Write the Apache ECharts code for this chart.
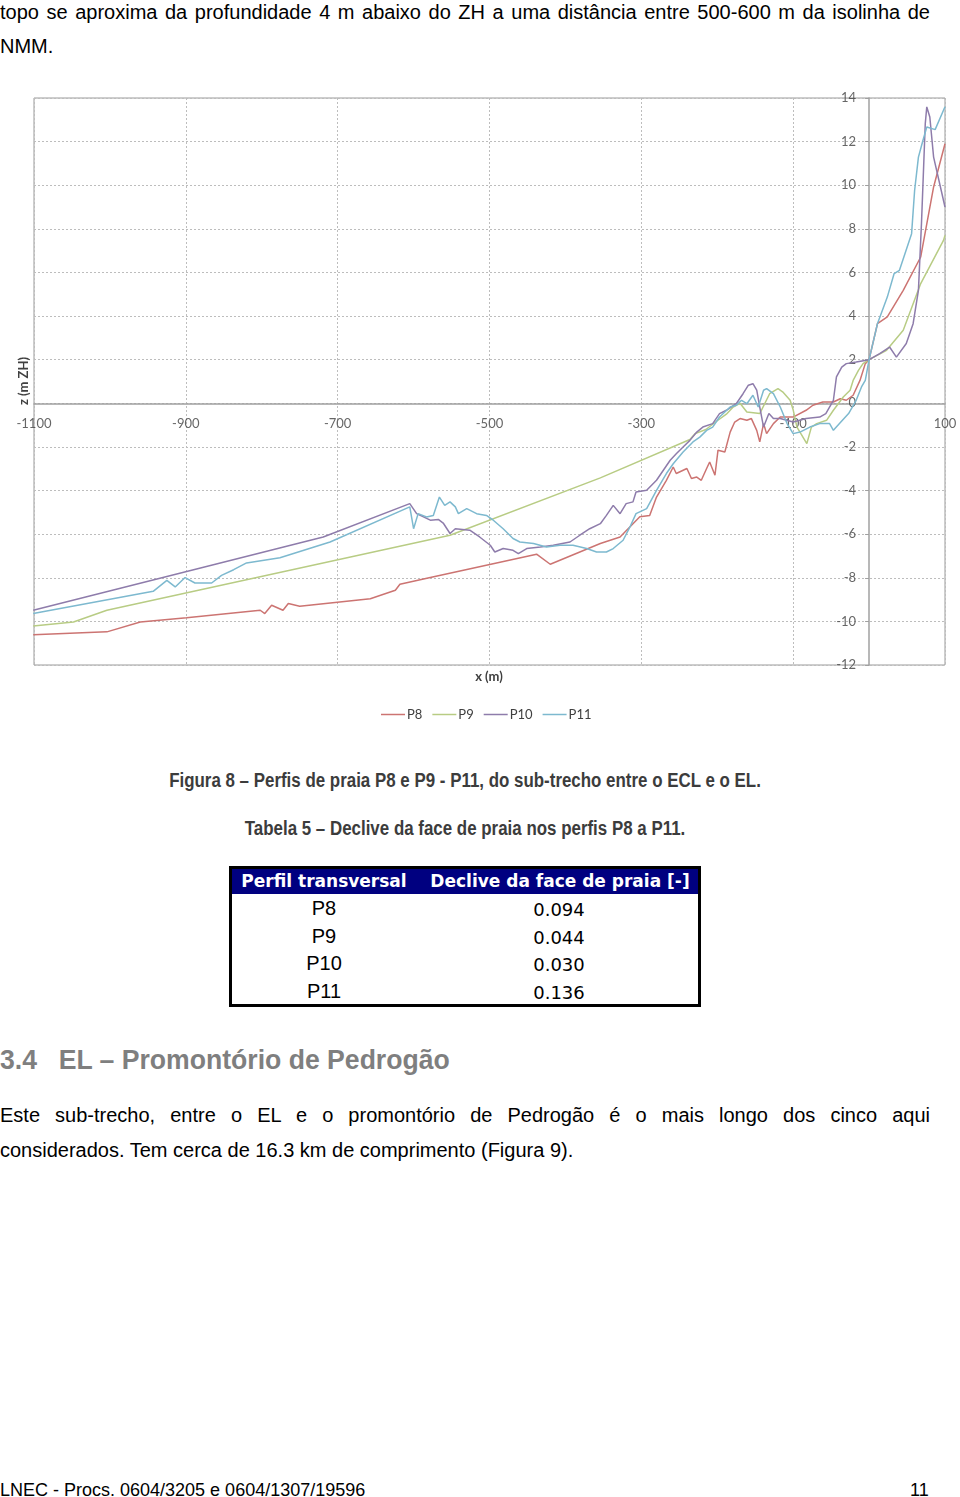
<!DOCTYPE html>
<html><head><meta charset="utf-8">
<script src="https://cdn.jsdelivr.net/npm/echarts@6/dist/echarts.min.js"></script>
<style>
html,body{margin:0;padding:0;background:#fff;}
body{width:960px;height:1497px;position:relative;overflow:hidden;font-family:'Liberation Sans',Arial,sans-serif;color:#000;}
.ln{position:absolute;left:0;font-size:20px;line-height:24px;}
.just{width:930px;text-align:justify;text-align-last:justify;}
.cap{position:absolute;left:0;width:930px;text-align:center;font-family:'Liberation Sans',Arial;font-weight:bold;font-size:19px;line-height:24px;color:#3c3c3c;transform:scaleX(0.89) scaleY(1.05);transform-origin:465px 50%;}
#chart{position:absolute;left:0;top:60px;width:960px;height:680px;}
.tbl{position:absolute;left:229px;top:866px;width:466px;height:135px;border:3px solid #000;}
.hd{position:absolute;left:0;top:0;width:466px;height:25px;background:#000080;}
.cell{position:absolute;text-align:center;white-space:nowrap;}
.h{color:#fff;font-family:'DejaVu Sans',Verdana,sans-serif;font-weight:bold;font-size:17px;line-height:25px;top:0;}
.c1{left:0;width:184px;}
.c2{left:186px;width:282px;}
.h.c2{left:187px;}
.p{font-family:'Liberation Sans',Arial;font-size:20px;line-height:24px;}
.n{font-family:'DejaVu Sans',Verdana,sans-serif;font-size:18px;line-height:24px;}
.sec{position:absolute;left:0;top:1044px;font-family:'Liberation Sans',Arial;font-weight:bold;font-size:27px;line-height:32px;color:#7f7f7f;white-space:nowrap;transform:scaleX(0.985);transform-origin:0 50%;}
</style></head>
<body>
<div class="ln just" style="top:0px;">topo se aproxima da profundidade 4 m abaixo do ZH a uma distância entre 500-600 m da isolinha de</div>
<div class="ln" style="top:34px;">NMM.</div>
<div id="chart"></div>
<div class="cap" style="top:769px;">Figura 8 – Perfis de praia P8 e P9 - P11, do sub-trecho entre o ECL e o EL.</div>
<div class="cap" style="top:817px;">Tabela 5 – Declive da face de praia nos perfis P8 a P11.</div>
<div class="tbl">
  <div class="hd"></div>
  <div class="cell h c1">Perfil transversal</div>
  <div class="cell h c2">Declive da face de praia [-]</div>
  <div id="rows"></div>
</div>
<div class="sec">3.4<span style="display:inline-block;width:22px;"></span>EL – Promontório de Pedrogão</div>
<div class="ln just" style="top:1103px;">Este sub-trecho, entre o EL e o promontório de Pedrogão é o mais longo dos cinco aqui</div>
<div class="ln" style="top:1138px;">considerados. Tem cerca de 16.3 km de comprimento (Figura 9).</div>
<div class="ln" style="top:1478px;font-size:18px;">LNEC - Procs. 0604/3205 e 0604/1307/19596</div>
<div class="ln" style="top:1478px;font-size:18px;left:910px;">11</div>
<script>
// ---- data (x in m, z in m ZH) ----
var profiles = ['P8','P9','P10','P11'];
var slopes = ['0.094','0.044','0.030','0.136'];
var xTicks = [-1100,-900,-700,-500,-300,-100,100];
var yTicks = [-12,-10,-8,-6,-4,-2,0,2,4,6,8,10,12,14];

var P8 = [[-1101,-10.61],[-1004,-10.48],[-960,-10.03],[-899,-9.83],[-802,-9.49],[-796,-9.64],[-787,-9.26],[-772,-9.49],[-765,-9.18],[-750,-9.31],[-657,-8.96],[-624,-8.57],[-618,-8.30],[-578,-7.99],[-438,-6.92],[-420,-7.38],[-354,-6.43],[-328,-6.13],[-302,-5.2],[-289,-5.14],[-280,-4.3],[-267,-3.53],[-258,-2.92],[-254,-3.22],[-240,-2.99],[-234,-3.45],[-227,-3.38],[-221,-3.53],[-214,-2.99],[-210,-2.69],[-203,-3.30],[-199,-2.15],[-190,-2.23],[-183,-1.32],[-177,-0.86],[-170,-0.70],[-161,-0.78],[-155,-0.70],[-148,-1.24],[-144,-1.77],[-139,-0.93],[-135,-1.39],[-126,-0.93],[-117,-0.63],[-100,-0.63],[-83,-0.32],[-74,-0.09],[-61,0.06],[-47,0.06],[-38,0.21],[-30,0.14],[-21,0.37],[-12,1.05],[-5,1.82],[0,2.0],[11,3.65],[24,3.96],[45,5.18],[68,6.71],[85,9.92],[100,11.9]];
var P9 = [[-1101,-10.21],[-1048,-10.03],[-1004,-9.49],[-552,-6.05],[-354,-3.42],[-236,-1.66],[-229,-1.39],[-215,-1.2],[-200,-0.8],[-188,-0.5],[-179,-0.17],[-170,0],[-161,-0.4],[-144,-0.47],[-131,0.44],[-120,0.67],[-113,0.5],[-104,0.14],[-100,-0.3],[-95,-1.09],[-82,-1.85],[-76,-1.09],[-69,-0.93],[-56,-0.78],[-47,-0.32],[-34,0.29],[-25,0.6],[-21,1.05],[-14,1.51],[-8,1.82],[0,2.0],[23,2.43],[45,3.35],[68,5.49],[98,7.47],[100,7.7]];
var P10 = [[-1101,-9.49],[-719,-6.13],[-605,-4.60],[-596,-5.06],[-587,-5.21],[-578,-5.36],[-567,-5.33],[-561,-5.49],[-552,-5.97],[-545,-5.75],[-526,-5.82],[-513,-6.13],[-499,-6.51],[-493,-6.82],[-482,-6.66],[-469,-6.74],[-462,-6.89],[-451,-6.66],[-433,-6.59],[-416,-6.51],[-394,-6.36],[-381,-6.05],[-368,-5.75],[-354,-5.52],[-346,-5.14],[-337,-4.68],[-328,-5.06],[-320,-4.60],[-311,-4.52],[-307,-4.07],[-293,-3.99],[-280,-3.53],[-271,-3.07],[-262,-2.61],[-254,-2.31],[-245,-2.00],[-236,-1.70],[-227,-1.32],[-219,-1.09],[-206,-0.93],[-197,-0.47],[-188,-0.32],[-175,-0.02],[-166,0.44],[-159,0.83],[-153,0.90],[-148,0.60],[-144,-0.17],[-139,-1.09],[-132,-0.47],[-126,-0.70],[-117,-0.70],[-100,-0.86],[-83,-0.70],[-65,-0.63],[-57,-0.47],[-47,0.14],[-43,1.21],[-36,1.66],[-30,1.82],[-17,1.89],[0,2.0],[14,2.28],[27,2.58],[36,2.12],[49,2.74],[58,3.65],[65,5.18],[69,8.24],[74,12.82],[76,13.59],[80,13.13],[85,11.29],[100,9.0]];
var P11 = [[-1101,-9.64],[-943,-8.62],[-925,-8.12],[-914,-8.42],[-901,-7.99],[-888,-8.24],[-866,-8.24],[-853,-7.89],[-837,-7.63],[-820,-7.32],[-776,-7.08],[-710,-6.36],[-605,-4.75],[-600,-5.75],[-594,-5.06],[-583,-5.21],[-574,-5.14],[-566,-4.30],[-559,-4.68],[-552,-4.52],[-545,-4.75],[-541,-5.06],[-530,-4.83],[-517,-5.06],[-504,-5.14],[-495,-5.36],[-482,-5.75],[-469,-6.20],[-460,-6.36],[-442,-6.43],[-425,-6.59],[-407,-6.51],[-390,-6.51],[-372,-6.66],[-359,-6.82],[-346,-6.82],[-337,-6.66],[-324,-6.28],[-315,-5.67],[-307,-5.06],[-293,-4.83],[-280,-3.99],[-267,-3.22],[-258,-2.77],[-245,-2.23],[-232,-1.77],[-223,-1.55],[-214,-1.24],[-206,-1.09],[-197,-0.63],[-183,-0.17],[-175,-0.09],[-168,0.14],[-161,-0.02],[-153,0.37],[-146,-0.17],[-139,0.60],[-135,0.67],[-126,0.44],[-117,-0.17],[-108,-0.93],[-100,-1.39],[-91,-1.32],[-78,-1.09],[-65,-0.93],[-52,-0.93],[-47,-1.24],[-39,-0.93],[-27,-0.47],[-17,0.14],[-10,0.75],[-5,1.05],[0,2.0],[11,3.65],[24,4.87],[33,5.95],[40,6.10],[56,7.78],[60,9.77],[65,11.29],[71,12.06],[76,12.67],[87,12.55],[100,13.6]];

var seriesData = [P8,P9,P10,P11];
var colors = ['#cc7472','#b8cc84','#8e7cab','#7db9cf'];

// table rows
var rowsHtml = '';
for (var i=0;i<profiles.length;i++){
  var rowTop = 28 + i*27.5;
  rowsHtml += '<div class="cell p c1" style="top:'+(rowTop-1)+'px;">'+profiles[i]+'</div>';
  rowsHtml += '<div class="cell n c2" style="top:'+(rowTop+1)+'px;">'+slopes[i]+'</div>';
}
document.getElementById('rows').innerHTML = rowsHtml;

var chart = echarts.init(document.getElementById('chart'), null, {renderer:'canvas'});
var FONT = 'Lato, "Open Sans", sans-serif';
var series = profiles.map(function(name,i){
  return {name:name,type:'line',data:seriesData[i],symbol:'none',showSymbol:false,
    lineStyle:{color:colors[i],width:1.5},itemStyle:{color:colors[i]},z:2+i};
});
// tick labels placed on the zero lines (x labels below y=0, y labels left of x=0)
series.push({type:'scatter',name:'xlab',data:xTicks.map(function(v){return [v,0];}),symbolSize:0,silent:true,z:1,
  label:{show:true,position:'bottom',distance:14,color:'#404040',fontFamily:FONT,fontSize:13,
    formatter:function(p){return String(p.value[0]);}}});
series.push({type:'scatter',name:'ylab',data:yTicks.map(function(v){return [0,v];}),symbolSize:0,silent:true,z:1,
  label:{show:true,position:'left',distance:13,color:'#404040',fontFamily:FONT,fontSize:13,
    formatter:function(p){return String(p.value[1]);}}});

var option = {
  animation:false,
  grid:{left:34,right:15,top:38,bottom:75,show:true,borderColor:'#9a9a9a',borderWidth:1,backgroundColor:'transparent'},
  legend:{data:profiles,left:376,top:643,icon:'rect',itemWidth:24,itemHeight:1.5,itemGap:10,
    textStyle:{fontFamily:FONT,fontSize:13,color:'#404040',padding:[0,0,0,-3]}},
  xAxis:{type:'value',min:xTicks[0],max:xTicks[xTicks.length-1],interval:200,
    axisLine:{onZero:true,lineStyle:{color:'#a0a0a0',width:1.5}},
    axisTick:{show:false},
    axisLabel:{show:false},
    splitLine:{show:true,lineStyle:{color:'#bdbdbd',type:[2,2],width:1}}},
  yAxis:{type:'value',min:yTicks[0],max:yTicks[yTicks.length-1],interval:2,
    axisLine:{onZero:true,lineStyle:{color:'#a0a0a0',width:1.5}},
    axisTick:{show:true,length:4,lineStyle:{color:'#a0a0a0',width:1}},
    axisLabel:{show:false},
    splitLine:{show:true,lineStyle:{color:'#bdbdbd',type:[2,2],width:1}}},
  graphic:[
    {type:'text',x:24,y:321,rotation:Math.PI/2,style:{text:'z (m ZH)',font:'bold 13px '+FONT,fill:'#404040',align:'center',verticalAlign:'middle'}},
    {type:'text',x:489,y:617,style:{text:'x (m)',font:'bold 13px '+FONT,fill:'#404040',align:'center',verticalAlign:'middle'}}
  ],
  series: series
};
chart.setOption(option);
</script>
</body></html>
